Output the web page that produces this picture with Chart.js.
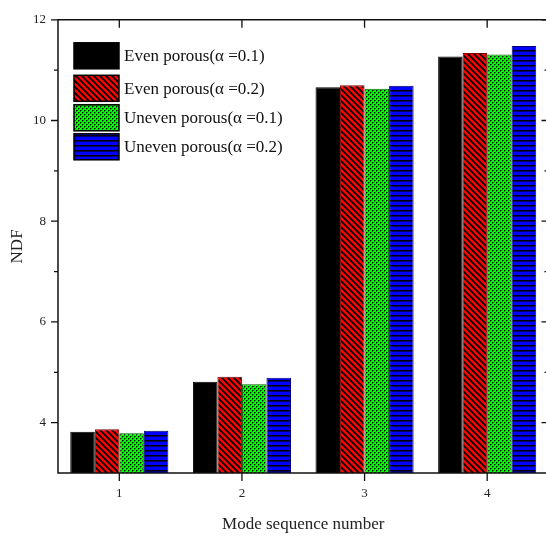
<!DOCTYPE html>
<html>
<head>
<meta charset="utf-8">
<script src="https://cdn.jsdelivr.net/npm/chart.js@4/dist/chart.umd.min.js"></script>
<style>
  html, body { margin: 0; padding: 0; background: #fff; overflow: hidden; }
  #wrap { width: 546px; height: 536px; overflow: hidden; position: relative; }
  canvas { display: block; }
</style>
</head>
<body>
<div id="wrap"><canvas id="c" width="552" height="536"></canvas></div>
<script>
// ---- data ----
const categories = ['1', '2', '3', '4'];
const seriesLabels = ['Even porous(\u03b1 =0.1)', 'Even porous(\u03b1 =0.2)', 'Uneven porous(\u03b1 =0.1)', 'Uneven porous(\u03b1 =0.2)'];
const evenA01   = [3.82, 4.81, 10.66, 11.27];
const evenA02   = [3.87, 4.91, 10.70, 11.34];
const unevenA01 = [3.79, 4.76, 10.63, 11.31];
const unevenA02 = [3.84, 4.89, 10.69, 11.48];
const yMin = 3, yMax = 12, yStep = 1;
const xTitle = 'Mode sequence number';
const yTitle = 'NDF';

const FONT = '"Liberation Serif", "Times New Roman", serif';

function makePattern(kind) {
  const t = document.createElement('canvas');
  const g = t.getContext('2d');
  if (kind === 'red') {
    t.width = 6; t.height = 6;
    g.fillStyle = '#ff0000'; g.fillRect(0, 0, 6, 6);
    g.strokeStyle = '#000'; g.lineWidth = 1.7;
    g.beginPath();
    for (const k of [-6, 0, 6]) { g.moveTo(k - 1, -1); g.lineTo(k + 7, 7); }
    g.stroke();
  } else if (kind === 'green') {
    t.width = 4; t.height = 4;
    g.fillStyle = '#00ff00'; g.fillRect(0, 0, 4, 4);
    g.fillStyle = '#000';
    g.fillRect(2, 0, 1, 1); g.fillRect(0, 2, 1, 1);
    g.fillStyle = 'rgba(0,0,0,0.5)';
    g.fillRect(3, 0, 1, 1); g.fillRect(2, 1, 1, 1);
    g.fillRect(1, 2, 1, 1); g.fillRect(0, 3, 1, 1);
  } else if (kind === 'blue') {
    t.width = 5; t.height = 5;
    g.fillStyle = '#0000ff'; g.fillRect(0, 0, 5, 5);
    g.fillStyle = '#000'; g.fillRect(0, 0, 5, 1);
    g.fillStyle = '#000070'; g.fillRect(0, 1, 5, 1);
  }
  return document.getElementById('c').getContext('2d').createPattern(t, 'repeat');
}

const fills = ['#000000', makePattern('red'), makePattern('green'), makePattern('blue')];
const borders = ['#000000', '#800000', '#006000', '#000080'];
const values = [evenA01, evenA02, unevenA01, unevenA02];

const frameAndLegend = {
  id: 'frameAndLegend',
  afterDraw(chart) {
    const ctx = chart.ctx;
    const a = chart.chartArea;
    const xs = chart.scales.x, ys = chart.scales.y;
    ctx.save();
    ctx.strokeStyle = '#111';
    ctx.lineWidth = 1.5;
    ctx.beginPath();
    ctx.rect(a.left, a.top, a.right - a.left, a.bottom - a.top);
    ctx.stroke();
    ctx.lineWidth = 1.3;
    ctx.beginPath();
    ys.ticks.forEach(t => {
      const y = ys.getPixelForValue(t.value);
      if (t.value === yMin) return;
      const major = t.value % 2 === 0;
      const len = major ? 7 : 4;
      ctx.moveTo(a.left - len, y); ctx.lineTo(a.left, y);
      ctx.moveTo(a.right, y); ctx.lineTo(a.right - len, y);
    });
    categories.forEach((c, i) => {
      const x = xs.getPixelForValue(i);
      ctx.moveTo(x, a.bottom); ctx.lineTo(x, a.bottom + 8);
      ctx.moveTo(x, a.top); ctx.lineTo(x, a.top + 8);
    });
    ctx.stroke();

    const bx = a.left + 16, bw = 45, bh = 26;
    const tops = [23, 55.5, 85, 114];
    ctx.font = '17px ' + FONT;
    ctx.textBaseline = 'middle';
    ctx.textAlign = 'left';
    chart.data.datasets.forEach((ds, i) => {
      const by = a.top + tops[i];
      ctx.fillStyle = ds.backgroundColor;
      ctx.fillRect(bx, by, bw, bh);
      ctx.strokeStyle = '#000';
      ctx.lineWidth = 1.5;
      ctx.strokeRect(bx, by, bw, bh);
      ctx.fillStyle = '#111';
      ctx.fillText(ds.label, bx + bw + 5, by + bh / 2 + 1);
    });
    ctx.restore();
  }
};

new Chart(document.getElementById('c'), {
  type: 'bar',
  data: {
    labels: categories,
    datasets: values.map((v, i) => ({
      label: seriesLabels[i],
      data: v,
      backgroundColor: fills[i],
      borderColor: borders[i],
      borderWidth: 1,
      categoryPercentage: 0.8,
      barPercentage: 1.0
    }))
  },
  options: {
    responsive: false,
    animation: false,
    devicePixelRatio: 1,
    layout: { padding: { top: 19, right: 3.5, left: 0, bottom: 0 } },
    plugins: { legend: { display: false }, tooltip: { enabled: false } },
    scales: {
      x: {
        grid: { display: false, drawTicks: false },
        border: { display: false },
        ticks: { font: { family: FONT, size: 13 }, color: '#222', padding: 13 },
        title: { display: true, text: xTitle, font: { family: FONT, size: 17 }, color: '#222', padding: { top: 0, bottom: 1 } },
        afterFit: s => { s.height = 63; }
      },
      y: {
        min: yMin, max: yMax,
        grid: { display: false, drawTicks: false },
        border: { display: false },
        ticks: {
          stepSize: yStep, autoSkip: false,
          font: { family: FONT, size: 13 }, color: '#222', padding: 12,
          callback: v => (v % 2 === 0 ? String(v) : '')
        },
        title: { display: true, text: yTitle, font: { family: FONT, size: 17 }, color: '#222', padding: { top: 7, bottom: 0 } },
        afterFit: s => { s.width = 58; }
      }
    }
  },
  plugins: [frameAndLegend]
});
</script>
</body>
</html>
